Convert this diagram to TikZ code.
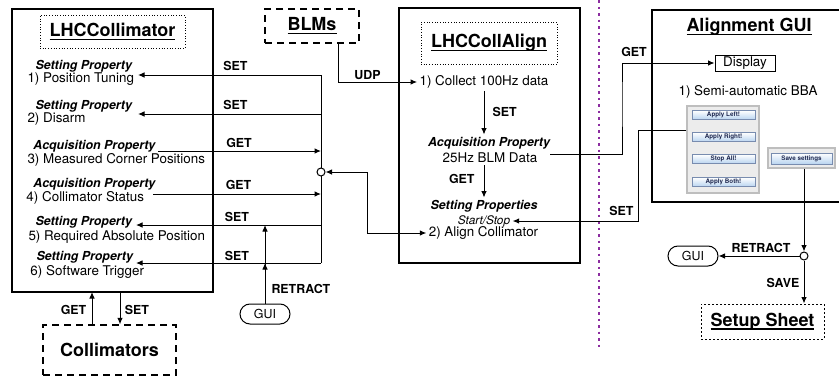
\documentclass[tikz,border=0pt]{standalone}
\usepackage{fontspec}
\setmainfont{TeX Gyre Heros}
\usetikzlibrary{arrows.meta}

\definecolor{seppurple}{RGB}{140,45,160}
\definecolor{panelfill}{RGB}{236,236,236}
\definecolor{paneledge}{RGB}{190,190,190}
\definecolor{btnedge}{RGB}{120,140,175}
\definecolor{btnfill}{RGB}{185,212,240}
\definecolor{btntext}{RGB}{30,40,80}

\newcommand{\ulbold}[1]{\setbox0\hbox{#1}\rlap{\vrule height -2.2pt depth 3.6pt width \wd0}\box0}

\begin{document}
\begin{tikzpicture}[x=1pt, y=-1pt, >={Latex[length=6.5pt,width=5.5pt]}, line width=1pt]
  \tikzstyle{mainbox} = [draw, line width=2.4pt, inner sep=0pt]
  \tikzstyle{titlebox} = [draw, dotted, line width=0.7pt, inner sep=0pt, font=\fontsize{18}{20}\selectfont\bfseries]
  \tikzstyle{dashbox} = [draw, dash pattern=on 7pt off 5pt, line width=1.2pt, inner sep=0pt, font=\fontsize{18}{20}\selectfont\bfseries]
  \tikzstyle{dotbox} = [draw, dash pattern=on 2pt off 2pt, line width=1pt, inner sep=0pt, font=\fontsize{18}{20}\selectfont\bfseries]
  \tikzstyle{prop} = [anchor=west, inner sep=2pt, font=\fontsize{12.4}{14}\selectfont\bfseries\itshape]
  \tikzstyle{item} = [anchor=west, inner sep=2pt, font=\fontsize{13.4}{15}\selectfont]
  \tikzstyle{lbl} = [inner sep=1pt, font=\fontsize{12.4}{14}\selectfont\bfseries]
  \tikzstyle{junction} = [draw, circle, fill=white, inner sep=0pt, minimum size=8pt]
  \tikzstyle{guinode} = [draw, rounded corners=10pt, minimum width=50pt, minimum height=20pt, inner sep=0pt, font=\fontsize{12.4}{14}\selectfont]
  \tikzstyle{panel} = [draw=paneledge, fill=panelfill, line width=1.2pt, inner sep=0pt]
  \tikzstyle{gbutton} = [draw=btnedge, line width=0.5pt, top color=white, bottom color=btnfill, minimum width=63pt, minimum height=9pt, inner sep=0pt, text=btntext, font=\fontsize{6.3}{6.3}\selectfont\bfseries]

  \useasboundingbox (0,0) rectangle (839,380);
  \clip (0,0) rectangle (839,380);

  % left: LHCCollimator
  \node [mainbox, minimum width=201pt, minimum height=283pt] (collbox) at (112.5,150.5) {};
  \node [titlebox, minimum width=145pt, minimum height=33pt] (colltitle) at (112.5,31.5) {\ulbold{LHCCollimator}};
  \node [prop] (prop1) at (33,66) {Setting Property};
  \node [item] (name1) at (25,79) {1) Position Tuning};
  \node [prop] (prop2) at (33,106) {Setting Property};
  \node [item] (name2) at (25,119) {2) Disarm};
  \node [prop] (prop3) at (31,146) {Acquisition Property};
  \node [item] (name3) at (25,160) {3) Measured Corner Positions};
  \node [prop] (prop4) at (31,184) {Acquisition Property};
  \node [item] (name4) at (24,198) {4) Collimator Status};
  \node [prop] (prop5) at (33,222) {Setting Property};
  \node [item] (name5) at (26,237) {5) Required Absolute Position};
  \node [prop] (prop6) at (34,257) {Setting Property};
  \node [item] (name6) at (28,272) {6) Software Trigger};

  \coordinate (bus1) at (321,75);
  \coordinate (bus2) at (321,114);
  \coordinate (bus3) at (321,151);
  \coordinate (bus4) at (321,194);
  \coordinate (bus5) at (321,225);
  \coordinate (bus6) at (321,263);
  \coordinate (in1) at (138,75);
  \coordinate (in2) at (138,114);
  \coordinate (out3) at (158,151);
  \coordinate (out4) at (153,194);
  \coordinate (in5) at (136,225);
  \coordinate (in6) at (136,263);

  \draw (bus1) -- (bus6);
  \draw [->] (bus1) -- (in1);
  \draw [->] (bus2) -- (in2);
  \draw [->] (out3) -- (bus3);
  \draw [->] (out4) -- (bus4);
  \draw [->] (bus5) -- (in5);
  \draw [->] (bus6) -- (in6);
  \node [lbl] (set1) at (235.5,66) {SET};
  \node [lbl] (set2) at (235.5,105) {SET};
  \node [lbl] (get3) at (239,143) {GET};
  \node [lbl] (get4) at (238.5,185) {GET};
  \node [lbl] (set5) at (237,217) {SET};
  \node [lbl] (set6) at (237,256) {SET};
  \node [junction] (junc1) at (321,172) {};

  \node [guinode] (gui1) at (265,314) {GUI};
  \draw [->] (gui1) -- (gui1 |- bus6);
  \draw [->] (gui1) -- (gui1 |- bus5);
  \node [lbl, anchor=west] (retract1) at (270,289) {RETRACT};

  \node [dashbox, minimum width=133pt, minimum height=50pt] (collim) at (109.5,350) {Collimators};
  \coordinate (cget) at (92,292);
  \coordinate (cset) at (120,292);
  \draw [->] (cget |- collim.north) -- (cget);
  \draw [->] (cset) -- (cset |- collim.north);
  \node [lbl] (get7) at (73.5,310) {GET};
  \node [lbl] (set7) at (137,310) {SET};

  % middle: BLMs and LHCCollAlign
  \node [dashbox, minimum width=94pt, minimum height=34pt] (blms) at (312,26) {\ulbold{BLMs}};
  \node [mainbox, minimum width=181pt, minimum height=255pt] (alignbox) at (489.5,135.5) {};
  \node [titlebox, minimum width=136pt, minimum height=42pt] (aligntitle) at (489,43) {\ulbold{LHCCollAlign}};
  \node [item, anchor=center] (collect) at (484,82) {1) Collect 100Hz data};
  \node [prop, anchor=center] (acq) at (489,143) {Acquisition Property};
  \node [item, anchor=center] (blmdata) at (490,158) {25Hz BLM Data};
  \node [prop, anchor=center] (setp) at (484,206) {Setting Properties};
  \node [inner sep=2pt, font=\fontsize{11.8}{13}\selectfont\itshape] (startstop) at (484,221) {Start/Stop};
  \node [item, anchor=center] (align2) at (483.5,233) {2) Align Collimator};

  \draw [->] ([xshift=26pt]blms.south) |- (collect);
  \node [lbl] (udp) at (367.5,75) {UDP};
  \draw [->] (collect) -- (collect |- acq.north);
  \node [lbl, anchor=west] (set8) at (491,112) {SET};
  \draw [->] (collect |- blmdata.south) -- (collect |- setp.north);
  \node [lbl, anchor=east] (get8) at (476,179) {GET};
  \coordinate (bend1) at (367,172);
  \draw [<->] (junc1) -- (bend1) |- (align2);

  % separator
  \coordinate (septop) at (599,0);
  \coordinate (sepbot) at (599,350);
  \draw [seppurple, line width=2.6pt, dash pattern=on 2.6pt off 3.9pt] (septop) -- (sepbot);

  % right: Alignment GUI
  \node [mainbox, minimum width=260pt, minimum height=192pt] (guiwin) at (782,106) {};
  \node [font=\fontsize{18}{20}\selectfont\bfseries] (guititle) at (749,27) {\ulbold{Alignment GUI}};
  \node [draw, minimum width=60pt, minimum height=16pt, inner sep=0pt, font=\fontsize{13.4}{15}\selectfont] (display) at (745,63) {Display};
  \node [item, anchor=center] (bba) at (748,92) {1) Semi-automatic BBA};
  \node [panel, minimum width=72pt, minimum height=87pt] (panel) at (723,149.5) {};
  \node [gbutton] (btnleft) at (723.5,115) {Apply Left!};
  \node [gbutton] (btnright) at (723.5,137) {Apply Right!};
  \node [gbutton] (btnstop) at (723.5,159) {Stop All!};
  \node [gbutton] (btnboth) at (723.5,182) {Apply Both!};
  \node [panel, minimum width=67pt, minimum height=20pt] (savepanel) at (801.5,158) {};
  \node [gbutton, minimum width=61pt, minimum height=11pt] (btnsave) at (801.5,158.5) {Save settings};

  \coordinate (acqout) at (550,154);
  \coordinate (getbend) at (622,100);
  \draw [->] (acqout) -| (getbend) |- (display);
  \node [lbl] (get9) at (634,52) {GET};
  \coordinate (setbend) at (638,130);
  \draw [->] (panel.west |- setbend) -- (setbend) |- (startstop);
  \node [lbl] (set9) at (621.5,211) {SET};

  \node [junction] (junc2) at (804,256) {};
  \node [guinode] (gui2) at (693,256) {GUI};
  \node [dotbox, minimum width=123pt, minimum height=35pt] (setup) at (762.5,321.5) {\ulbold{Setup Sheet}};
  \draw [->] (savepanel.south -| junc2) -- (junc2);
  \draw [->] (junc2) -- (gui2);
  \draw [->] (junc2) -- (junc2 |- setup.north);
  \node [lbl] (retract2) at (761,248) {RETRACT};
  \node [lbl] (save2) at (783,283) {SAVE};
\end{tikzpicture}
\end{document}
